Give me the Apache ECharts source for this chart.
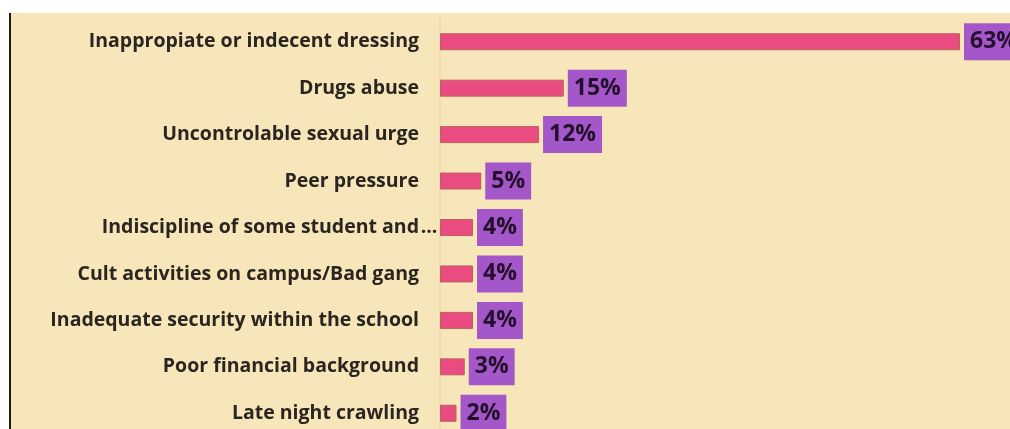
<!DOCTYPE html>
<html>
<head>
<meta charset="utf-8">
<script src="https://cdn.jsdelivr.net/npm/echarts@6/dist/echarts.min.js"></script>
<style>
  html, body { margin: 0; padding: 0; background: #ffffff; }
  #panel {
    position: absolute; left: 9px; top: 13px; right: 0; bottom: 0;
    background: #f6e6b9; border-left: 2px solid #1f1b16;
  }
  #chart { position: absolute; left: 0; top: 0; width: 1010px; height: 429px; }
</style>
</head>
<body>
<div id="panel"></div>
<div id="chart"></div>
<script>
// Reasons given, top to bottom
const categories = [
  'Inappropiate or indecent dressing',
  'Drugs abuse',
  'Uncontrolable sexual urge',
  'Peer pressure',
  'Indiscipline of some student and',
  'Cult activities on campus/Bad gang',
  'Inadequate security within the school',
  'Poor financial background',
  'Late night crawling'
];
// Share of respondents, percent
const values = [63, 15, 12, 5, 4, 4, 4, 3, 2];
// Categories whose label is cut short
const truncated = ['Indiscipline of some student and'];

const chart = echarts.init(document.getElementById('chart'), null, { renderer: 'canvas' });

chart.setOption({
  backgroundColor: 'transparent',
  animation: false,
  grid: {
    left: 440, width: 520, top: 18.5, height: 418,
    containLabel: false, outerBoundsMode: 'none'
  },
  xAxis: {
    type: 'value', min: 0, max: 63,
    show: false
  },
  yAxis: {
    type: 'category',
    data: categories,
    inverse: true,
    axisLine: { show: true, lineStyle: { color: '#ecdcae', width: 2 } },
    axisTick: { show: false },
    axisLabel: {
      margin: 1,
      formatter: function (v) {
        return '{t|' + v + '}' + (truncated.indexOf(v) >= 0 ? '{s|...}' : '{s|}');
      },
      rich: {
        t: { fontFamily: 'Open Sans', fontWeight: 'bold', fontSize: 19.5, color: '#2a2520' },
        s: { fontFamily: 'Open Sans', fontWeight: 'bold', fontSize: 19.5, color: '#2a2520', width: 20, align: 'left' }
      }
    }
  },
  series: [{
    type: 'bar',
    data: values,
    barWidth: 17,
    itemStyle: { color: '#ea4b80', borderColor: '#b8645a', borderWidth: 1 },
    label: {
      show: true,
      position: 'right',
      distance: 4,
      formatter: '{c}%',
      backgroundColor: '#a457c9',
      padding: [10, 6, 0, 6],
      lineHeight: 27,
      fontFamily: 'Open Sans',
      fontWeight: 'bold',
      fontSize: 23,
      color: '#24102c'
    }
  }]
});
</script>
</body>
</html>
